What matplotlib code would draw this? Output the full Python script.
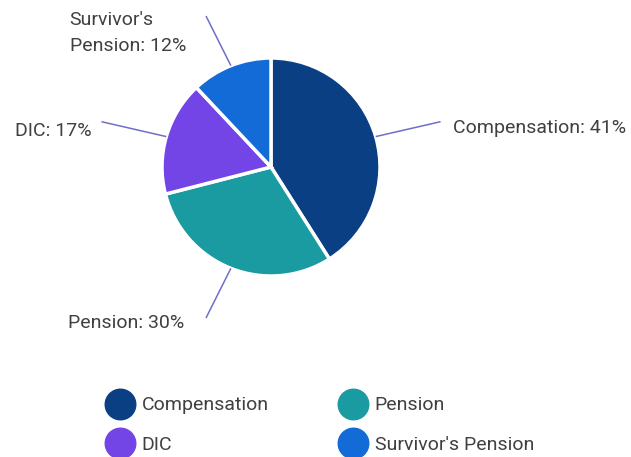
import numpy as np
import matplotlib.pyplot as plt
from matplotlib.lines import Line2D

plt.rcParams['font.family'] = ['Roboto', 'DejaVu Sans']

categories = ['Compensation', 'Pension', 'DIC', "Survivor's Pension"]
shares = [41, 30, 17, 12]
slice_labels = ['Compensation: 41%', 'Pension: 30%', 'DIC: 17%', "Survivor's\nPension: 12%"]
colors = ['#0a3f84', '#1a9ba1', '#7445e6', '#126bd6']

W, H = 631, 457
fig = plt.figure(figsize=(W / 100, H / 100), dpi=100)
ax = fig.add_axes([0, 0, 1, 1])

cx, cy, r = 271, H - 167, 109
wedges, _ = ax.pie(shares, colors=colors, startangle=90, counterclock=False,
                   center=(cx, cy), radius=r, frame=True,
                   wedgeprops=dict(edgecolor='white', linewidth=2.5))
ax.set_xlim(0, W)
ax.set_ylim(0, H)
ax.set_aspect('equal')
ax.axis('off')

# leader lines: from the slice edge at its mid angle out to an ellipse
text_offsets = [(12, -6), (-22, -5), (-10, -9), (-20, -17)]
for w, lab, (ox, oy) in zip(wedges, slice_labels, text_offsets):
    ang = np.deg2rad((w.theta1 + w.theta2) / 2)
    dx, dy = np.cos(ang), np.sin(ang)
    x0, y0 = cx + r * dx, cy + r * dy
    x1, y1 = cx + 1.62 * r * dx, cy + 1.49 * r * dy
    ax.plot([x0, x1], [y0, y1], color='#6f6fc8', lw=1.1, solid_capstyle='butt')
    ax.text(x1 + ox, y1 + oy, lab, ha='left' if dx > 0 else 'right', va='center',
            multialignment='left', fontsize=14, color='#404040', linespacing=1.55)

# legend fills row by row: two entries per row
order = [0, 2, 1, 3]
handles = [Line2D([], [], marker='o', ls='', markersize=22, color=colors[i]) for i in order]
fig.legend(handles, [categories[i] for i in order], loc='center',
           bbox_to_anchor=(321 / W, 1 - 425 / H), ncol=2, frameon=False,
           fontsize=14, labelcolor='#404040', handletextpad=0.45,
           columnspacing=3.7, labelspacing=1.1, handlelength=1.3)

fig.savefig('out.png', dpi=100)
